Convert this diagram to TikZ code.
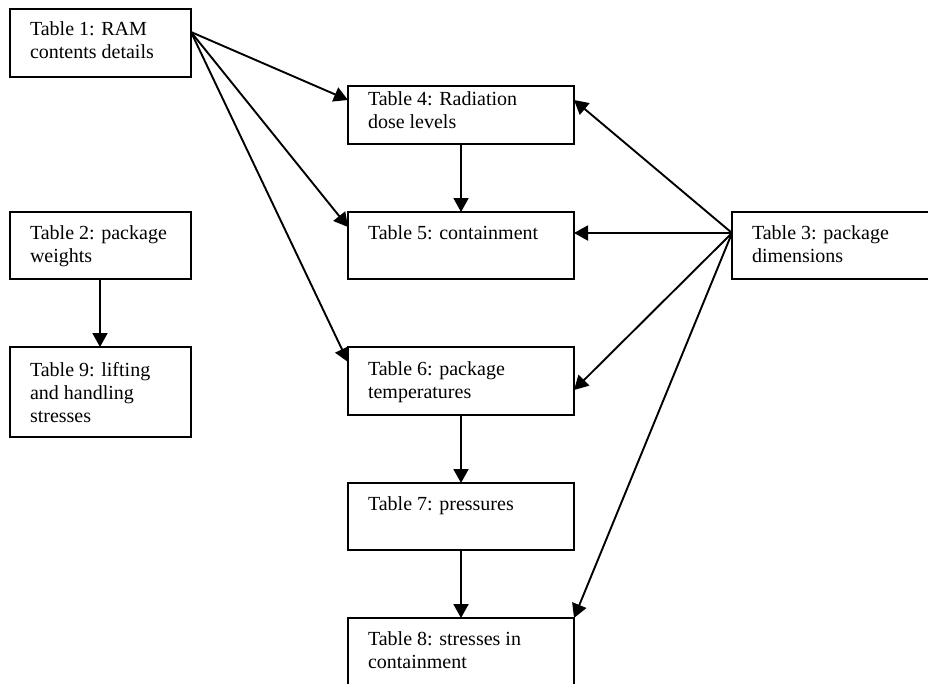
\documentclass[tikz,border=0pt]{standalone}
\usepackage{fontspec}
\setmainfont{Liberation Serif}
\usetikzlibrary{arrows.meta}
\begin{document}
\begin{tikzpicture}[x=1pt,y=-1pt,
  tbox/.style={draw, line width=1.9pt, inner sep=0pt, outer sep=0pt, anchor=north west},
  tlabel/.style={inner sep=0pt, outer sep=0pt, anchor=north west, align=left, font=\fontsize{20}{23}\selectfont},
  conn/.style={line width=1.9pt, -{Triangle[length=14pt,width=15pt]}}]
\useasboundingbox (0,0) rectangle (928,683);
\clip (0,0) rectangle (928,683);
\fill[white] (0,0) rectangle (928,683);
% boxes
\node[tbox, minimum width=181pt, minimum height=68pt] (t1) at (10,9) {};
\node[tbox, minimum width=181pt, minimum height=67pt] (t2) at (10,212) {};
\node[tbox, minimum width=181pt, minimum height=90pt] (t9) at (10,347) {};
\node[tbox, minimum width=226pt, minimum height=58pt] (t4) at (348,86) {};
\node[tbox, minimum width=226pt, minimum height=67pt] (t5) at (348,212) {};
\node[tbox, minimum width=226pt, minimum height=68pt] (t6) at (348,347) {};
\node[tbox, minimum width=226pt, minimum height=67pt] (t7) at (348,483) {};
\node[tbox, minimum width=226pt, minimum height=90pt] (t8) at (348,618) {};
\node[tbox, minimum width=210pt, minimum height=67pt] (t3) at (732,212) {};
% texts
\node[tlabel] (l1) at (30,22) {Table 1: RAM\\contents details};
\node[tlabel] (l2) at (30,226) {Table 2: package\\weights};
\node[tlabel] (l9) at (30,362) {Table 9: lifting\\and handling\\stresses};
\node[tlabel] (l4) at (368,92) {Table 4: Radiation\\dose levels};
\node[tlabel] (l5) at (368,226) {Table 5: containment};
\node[tlabel] (l6) at (368,362) {Table 6: package\\temperatures};
\node[tlabel] (l7) at (368,497) {Table 7: pressures};
\node[tlabel] (l8) at (368,632) {Table 8: stresses in\\containment};
\node[tlabel] (l3) at (752,226) {Table 3: package\\dimensions};
% connector points
\coordinate (s1) at (191,32);
\coordinate (s3) at (732,233);
\coordinate (e4l) at (348,100);
\coordinate (e5l) at (348,227);
\coordinate (e6l) at (348,362);
\coordinate (e4r) at (574,100);
\coordinate (e5r) at (574,233);
\coordinate (e6r) at (574,390);
% connectors
\draw[conn] (s1) -- (e4l);
\draw[conn] (s1) -- (e5l);
\draw[conn] (s1) -- (e6l);
\draw[conn] (s3) -- (e4r);
\draw[conn] (s3) -- (e5r);
\draw[conn] (s3) -- (e6r);
\draw[conn] (s3) -- (t8.north east);
\draw[conn] (t4.south) -- (t5.north);
\draw[conn] (t6.south) -- (t7.north);
\draw[conn] (t7.south) -- (t8.north);
\draw[conn] (t2.south -| 100,0) -- (t9.north -| 100,0);
\end{tikzpicture}
\end{document}
